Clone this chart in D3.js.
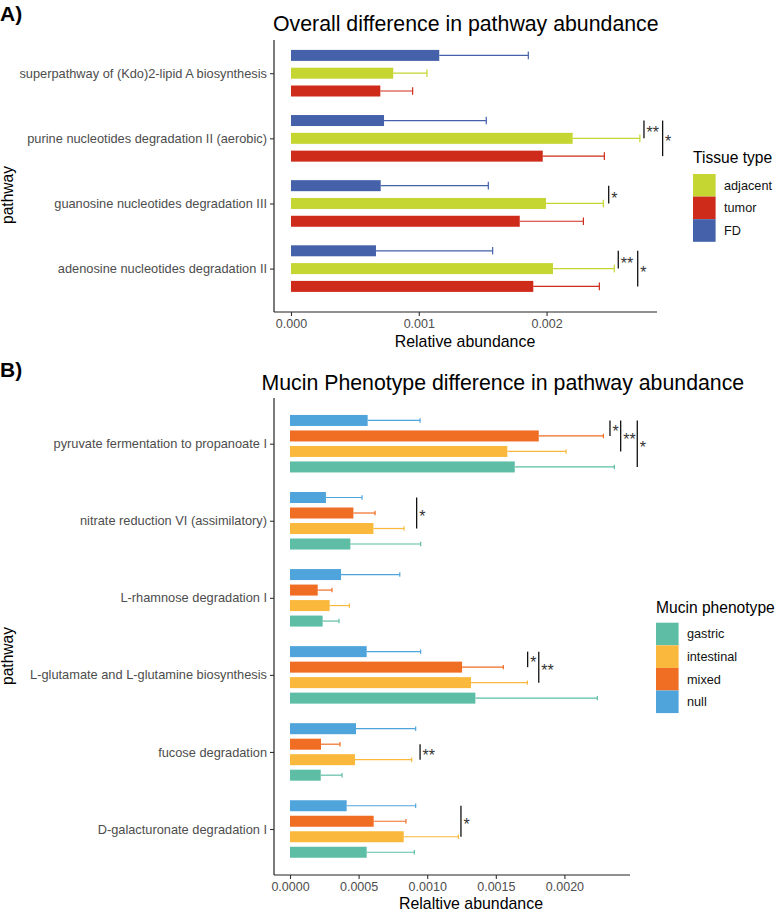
<!DOCTYPE html>
<html><head><meta charset="utf-8">
<script src="https://cdn.jsdelivr.net/npm/d3@7"></script>
<style>body{margin:0;background:#fff;} svg{display:block;font-family:"Liberation Sans",Arial,sans-serif;}</style>
</head><body><svg id="c" width="777" height="911"></svg>
<script>
// ---------- Panel A data ----------
const pathwaysA = ["superpathway of (Kdo)2-lipid A biosynthesis","purine nucleotides degradation II (aerobic)","guanosine nucleotides degradation III","adenosine nucleotides degradation II"];
const tissueOrder = ["FD","adjacent","tumor"];          // bar order inside each pathway (top to bottom)
const tissueLegend = ["adjacent","tumor","FD"];
const fdMean   = [0.00116, 0.000728, 0.000702, 0.000665];
const fdUpper  = [0.001857,0.001528, 0.001544, 0.001578];
const adjMean  = [0.0008,  0.002204, 0.001995, 0.00205];
const adjUpper = [0.001064,0.00273,  0.002444, 0.00253];
const tumMean  = [0.000699,0.00197,  0.00179,  0.001896];
const tumUpper = [0.000952,0.002452, 0.002288, 0.002413];
const ticksA = [0, 0.001, 0.002];
const sigA = [
  {p:1, from:"FD", to:"adjacent", at:0.002762, label:"**"},
  {p:1, from:"FD", to:"tumor",    at:0.002908, label:"*"},
  {p:2, from:"FD", to:"adjacent", at:0.002486, label:"*"},
  {p:3, from:"FD", to:"adjacent", at:0.002561, label:"**"},
  {p:3, from:"FD", to:"tumor",    at:0.002713, label:"*"}
];

// ---------- Panel B data ----------
const pathwaysB = ["pyruvate fermentation to propanoate I","nitrate reduction VI (assimilatory)","L-rhamnose degradation I","L-glutamate and L-glutamine biosynthesis","fucose degradation","D-galacturonate degradation I"];
const mucinOrder = ["null","mixed","intestinal","gastric"];
const mucinLegend = ["gastric","intestinal","mixed","null"];
const nullMean  = [0.000566,0.000262,0.000372,0.000559,0.000481,0.000413];
const nullUpper = [0.000948,0.000525,0.0008,  0.000952,0.000916,0.000916];
const mixMean   = [0.001813,0.000462,0.000202,0.001254,0.000226,0.00061];
const mixUpper  = [0.002284,0.00062, 0.000306,0.001555,0.000364,0.000845];
const intMean   = [0.001584,0.000608,0.000289,0.001319,0.000474,0.000829];
const intUpper  = [0.002012,0.000831,0.000433,0.00173, 0.000887,0.001227];
const gasMean   = [0.001638,0.00044, 0.000238,0.001351,0.000224,0.000559];
const gasUpper  = [0.002364,0.000952,0.000357,0.00224, 0.000379,0.000906];
const ticksB = [0, 0.0005, 0.001, 0.0015, 0.002];
const sigB = [
  {p:0, from:"null", to:"mixed",      at:0.002332, label:"*"},
  {p:0, from:"null", to:"intestinal", at:0.00241,  label:"**"},
  {p:0, from:"null", to:"gastric",    at:0.002531, label:"*"},
  {p:1, from:"null", to:"intestinal", at:0.000923, label:"*"},
  {p:3, from:"null", to:"mixed",      at:0.001732, label:"*"},
  {p:3, from:"null", to:"intestinal", at:0.001813, label:"**"},
  {p:4, from:"mixed", to:"intestinal",at:0.000948, label:"**"},
  {p:5, from:"null", to:"intestinal", at:0.001246, label:"*"}
];

const svg = d3.select("#c");

function panel(o){
  const g = svg.append("g");
  const x = d3.scaleLinear().domain(o.xDomain).range([o.left, o.right]);
  const yCat = d3.scalePoint().domain(o.cats).range(o.catRange);
  const ySub = d3.scaleBand().domain(o.groups).range([-o.half, o.half]).paddingInner(o.pad);
  const bw = ySub.bandwidth();
  const rows = [];
  o.cats.forEach((c,i)=>{
    o.groups.forEach(gname=>{
      rows.push({c, g:gname, mean:o.means[gname][i], up:o.uppers[gname][i]});
    });
  });
  const yc = d => yCat(d.c) + ySub(d.g) + bw/2;
  // error bars
  g.selectAll(".eb").data(rows).enter().append("line")
    .attr("x1", d=>x(d.mean)).attr("x2", d=>x(d.up))
    .attr("y1", yc).attr("y2", yc)
    .attr("stroke", d=>o.colors[d.g]).attr("stroke-width",1.2);
  g.selectAll(".cap").data(rows).enter().append("line")
    .attr("x1", d=>x(d.up)).attr("x2", d=>x(d.up))
    .attr("y1", d=>yc(d)-o.cap).attr("y2", d=>yc(d)+o.cap)
    .attr("stroke", d=>o.colors[d.g]).attr("stroke-width",1.2);
  // bars
  g.selectAll(".bar").data(rows).enter().append("rect")
    .attr("x", x(0)).attr("width", d=>x(d.mean)-x(0))
    .attr("y", d=>yCat(d.c)+ySub(d.g)).attr("height", bw)
    .attr("fill", d=>o.colors[d.g]);
  // significance
  o.sig.forEach(s=>{
    const c = o.cats[s.p];
    const y1 = yCat(c)+ySub(s.from)+bw/2, y2 = yCat(c)+ySub(s.to)+bw/2;
    g.append("line").attr("x1",x(s.at)).attr("x2",x(s.at)).attr("y1",y1).attr("y2",y2)
      .attr("stroke","#111").attr("stroke-width",1.3);
    g.append("text").attr("x", x(s.at)+2.5).attr("y",(y1+y2)/2+9)
      .attr("font-size",16).attr("fill","#333").text(s.label);
  });
  // axes lines
  g.append("line").attr("x1",o.left).attr("x2",o.left).attr("y1",o.top).attr("y2",o.bottom)
    .attr("stroke","#222").attr("stroke-width",1.2);
  g.append("line").attr("x1",o.left).attr("x2",o.right).attr("y1",o.bottom).attr("y2",o.bottom)
    .attr("stroke","#222").attr("stroke-width",1.2);
  // y axis ticks and labels
  const ya = g.append("g").attr("transform",`translate(${o.left},0)`)
    .call(d3.axisLeft(yCat).tickSize(4).tickPadding(3));
  ya.select(".domain").remove();
  ya.selectAll("line").attr("stroke","#333").attr("stroke-width",1.1);
  ya.selectAll("text").attr("font-size",12.8).attr("fill","#4d4d4d")
    .attr("font-family",'"Liberation Sans",Arial,sans-serif');
  // x axis
  const xa = g.append("g").attr("transform",`translate(0,${o.bottom})`)
    .call(d3.axisBottom(x).tickValues(o.ticks).tickFormat(d3.format(o.fmt)).tickSize(4).tickPadding(3));
  xa.select(".domain").remove();
  xa.selectAll("line").attr("stroke","#333").attr("stroke-width",1.1);
  xa.selectAll("text").attr("font-size",12.5).attr("fill","#4d4d4d")
    .attr("font-family",'"Liberation Sans",Arial,sans-serif');
  // titles
  g.append("text").attr("x",o.titleX).attr("y",o.titleY).attr("font-size",21.3).attr("fill","#000").text(o.title);
  g.append("text").attr("x",o.xtX).attr("y",o.xtY).attr("text-anchor","middle").attr("font-size",15.9).attr("fill","#000").text(o.xTitle);
  g.append("text").attr("transform",`translate(13,${o.ytY}) rotate(-90)`).attr("text-anchor","middle")
    .attr("font-size",15.6).attr("fill","#000").text("pathway");
  g.append("text").attr("x",0).attr("y",o.tagY).attr("font-size",21).attr("font-weight","bold").text(o.tag);
  // legend
  const lg = g.append("g");
  lg.append("text").attr("x",o.legX).attr("y",o.legY).attr("font-size",15.6).text(o.legTitle);
  o.legend.forEach((name,i)=>{
    const ky = o.legKeyY + i*22.6;
    lg.append("rect").attr("x",o.legX).attr("y",ky).attr("width",22.6).attr("height",22.6).attr("fill",o.colors[name]);
    lg.append("text").attr("x",o.legX+31).attr("y",ky+11.3+4.4).attr("font-size",12.7).attr("fill","#111").text(name);
  });
}

panel({
  cats: pathwaysA, groups: tissueOrder,
  means: {FD:fdMean, adjacent:adjMean, tumor:tumMean},
  uppers:{FD:fdUpper, adjacent:adjUpper, tumor:tumUpper},
  colors:{FD:"#4461aa", adjacent:"#c5d531", tumor:"#cf2b1b"},
  xDomain:[-0.000133, 0.002864], left:274, right:657, top:40, bottom:312,
  catRange:[73.2, 268.6], half:23.3, pad:0.382, cap:3.8,
  ticks: ticksA, fmt:".3f", sig: sigA,
  title:"Overall difference in pathway abundance", titleX:273, titleY:31,
  xTitle:"Relative abundance", xtX:465, xtY:347, ytY:195,
  tag:"A)", tagY:21,
  legTitle:"Tissue type", legend: tissueLegend, legX:693, legY:163, legKeyY:174
});

panel({
  cats: pathwaysB, groups: mucinOrder,
  means: {null:nullMean, mixed:mixMean, intestinal:intMean, gastric:gasMean},
  uppers:{null:nullUpper, mixed:mixUpper, intestinal:intUpper, gastric:gasUpper},
  colors:{null:"#4fa4dc", mixed:"#f06d24", intestinal:"#fab93c", gastric:"#5dbea5"},
  xDomain:[-0.0001166, 0.002478], left:274, right:630, top:398, bottom:875,
  catRange:[443.7, 829], half:28.75, pad:0.29, cap:2.2,
  ticks: ticksB, fmt:".4f", sig: sigB,
  title:"Mucin Phenotype difference in pathway abundance", titleX:261.5, titleY:390,
  xTitle:"Relaltive abundance", xtX:471, xtY:909, ytY:656,
  tag:"B)", tagY:377,
  legTitle:"Mucin phenotype", legend: mucinLegend, legX:656, legY:613, legKeyY:622.7
});
</script></body></html>
